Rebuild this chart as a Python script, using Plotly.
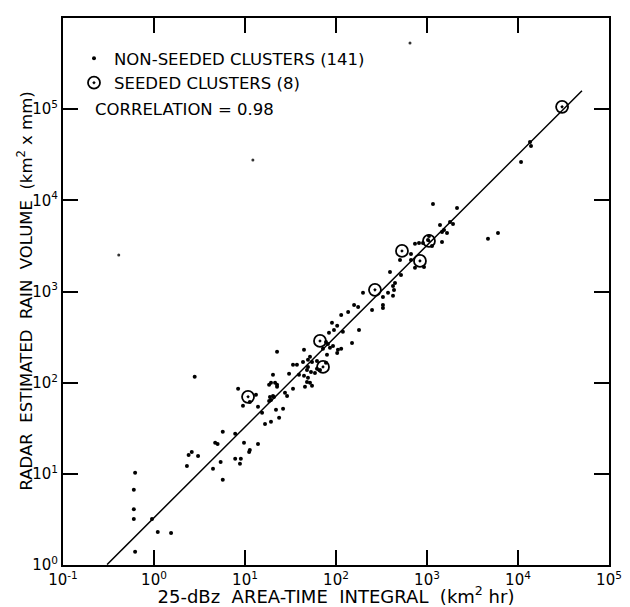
import numpy as np
import plotly.graph_objects as go

# ---- data ----
nonseeded_x = [0.62, 0.60, 0.60, 0.60, 0.95, 1.1, 1.54, 0.62, 2.3, 2.4, 2.6, 3.05, 4.45, 5.4, 5.7,
               4.7, 5.0, 5.7, 7.8, 7.8, 8.8, 9.0, 9.75, 11.3, 11.1, 13.9, 2.8, 8.4, 9.5, 13.2,
               11.3, 13.9, 15.4, 16.6, 19.3, 23.7, 26.2, 21.9, 19.3, 20.3, 18.4, 18.8, 20.8, 27.5,
               29.0, 19.3, 21.4, 22.5, 22.5, 20.3, 18.4, 30.5, 39.2, 33.7, 37.2, 22.5, 33.7, 45.6,
               54.5, 51.8, 44.5, 49.2, 43.4, 49.2, 48.0, 53.1, 44.5, 51.8, 49.2, 54.5, 61.8, 77.6,
               61.8, 58.7, 66.7, 79.6, 71.9, 85.9, 92.7, 105, 114, 103, 150, 77.6, 81.6, 83.7,
               95.0, 103, 90.3, 119, 179, 114, 136, 158, 175, 198, 249, 328, 328, 328, 373, 423,
               434, 423, 445, 518, 392, 505, 667, 667, 738, 927, 738, 817, 903, 1025, 1135, 1462,
               1052, 1462, 1538, 1660, 1390, 1791, 1932, 1163, 2138, 4680, 6026, 10800, 13550,
               13900, 48.0]
nonseeded_y = [10.3, 6.7, 4.1, 3.2, 3.2, 2.3, 2.25, 1.4, 12.2, 16.1, 17.4, 15.7, 11.4, 13.5, 8.6,
               21.9, 21.3, 28.9, 27.5, 14.6, 12.9, 14.6, 21.9, 18.3, 17.4, 21.3, 116, 85.5, 55.7, 73.5,
               61.5, 54.3, 46.7, 35.3, 37.2, 41.1, 51.6, 50.4, 64.7, 71.6, 63.1, 69.8, 69.8, 77.3,
               71.6, 99.5, 99.5, 94.6, 90.0, 122, 94.6, 125, 122, 157, 157, 218, 85.5, 90.0,
               92.3, 99.5, 119, 113, 169, 149, 138, 131, 229, 192, 178, 169, 173, 165,
               142, 128, 138, 202, 235, 241, 253, 229, 235, 212, 273, 280, 266, 352,
               379, 420, 453, 361, 379, 553, 597, 713, 678, 966, 628, 713, 661, 873, 966, 896,
               1040, 1150, 1240, 1520, 1640, 2220, 2220, 2580, 1820, 1860, 3330, 3410, 3410, 3680, 3160, 3500,
               4070, 4500, 4730, 4390, 5370, 5800, 5510, 9140, 8260, 3780, 4390, 26400, 43600,
               39400, 102]

# isolated faint points far from the main cluster
outlier_x = [650, 12.2, 0.41]
outlier_y = [532000, 27700, 2520]

seeded_x = [10.8, 66.7, 72.0, 268, 531, 837, 1051, 30500]
seeded_y = [70, 287, 149, 1042, 2786, 2167, 3590, 106000]

# regression line y = a * x^b, drawn over the fitted range
fit_a, fit_b = 3.3, 0.996
fit_x_range = [0.305, 50500]

x_tick_vals = [0.1, 1, 10, 100, 1000, 10000, 100000]
x_tick_text = ["10<sup>-1</sup>", "10<sup>0</sup>", "10<sup>1</sup>", "10<sup>2</sup>",
               "10<sup>3</sup>", "10<sup>4</sup>", "10<sup>5</sup>"]
y_tick_vals = [1, 10, 100, 1000, 10000, 100000, 1000000]
y_tick_text = ["10<sup>0</sup>", "10<sup>1</sup>", "10<sup>2</sup>", "10<sup>3</sup>",
               "10<sup>4</sup>", "10<sup>5</sup>", "10<sup>6</sup>"]

x_title = "25-dBz  AREA-TIME  INTEGRAL  (km<sup>2</sup> hr)"
y_title = "RADAR  ESTIMATED  RAIN  VOLUME  (km<sup>2</sup> x mm)"

FONT = "DejaVu Sans"
PLOT_W, PLOT_H = 546, 547

fig = go.Figure()

line_x = np.array(fit_x_range, dtype=float)
line_y = fit_a * line_x ** fit_b
fig.add_trace(go.Scatter(x=line_x, y=line_y, mode="lines",
                         line=dict(color="black", width=1.5), showlegend=False,
                         hoverinfo="skip"))

fig.add_trace(go.Scatter(x=nonseeded_x, y=nonseeded_y, mode="markers",
                         name="NON-SEEDED CLUSTERS (141)",
                         marker=dict(color="black", size=4, symbol="circle")))

fig.add_trace(go.Scatter(x=outlier_x, y=outlier_y, mode="markers", showlegend=False,
                         marker=dict(color="#333333", size=3, symbol="circle")))

fig.add_trace(go.Scatter(x=seeded_x, y=seeded_y, mode="markers",
                         name="SEEDED CLUSTERS (8)",
                         marker=dict(color="black", size=12, symbol="circle-open-dot",
                                     line=dict(color="black", width=1.8))))

axis_common = dict(type="log", showgrid=False, zeroline=False, showline=True,
                   linecolor="black", linewidth=2, mirror="ticks", ticks="inside",
                   ticklen=15, tickwidth=2, tickcolor="black", automargin=False,
                   tickfont=dict(family=FONT, size=15, color="black"))

fig.update_xaxes(range=[-1, 5], tickvals=x_tick_vals, ticktext=x_tick_text,
                 title=dict(text=x_title,
                            font=dict(family=FONT, size=18, color="black"), standoff=7),
                 **axis_common)
fig.update_yaxes(range=[0, 6], tickvals=y_tick_vals, ticktext=y_tick_text,
                 **axis_common)

# y-axis title placed as rotated text so it sits where the reference has it
fig.add_annotation(text=y_title, xref="paper", yref="paper",
                   x=(25 - 63) / PLOT_W, y=0.5, xanchor="center", yanchor="middle",
                   textangle=-90, showarrow=False,
                   font=dict(family=FONT, size=16.5, color="black"))

fig.add_annotation(text="CORRELATION = 0.98", xref="paper", yref="paper",
                   x=(93 - 63) / PLOT_W, y=1 - (110 - 18) / PLOT_H, xanchor="left", yanchor="middle",
                   showarrow=False, font=dict(family=FONT, size=16.5, color="black"))

# page body has an 8px default margin: shrink figure so the plot area lands at 63..609 x 18..565
fig.update_layout(
    width=622, height=599,
    margin=dict(l=55, r=21, t=10, b=42),
    paper_bgcolor="white", plot_bgcolor="white",
    font=dict(family=FONT, color="black"),
    legend=dict(x=11 / PLOT_W, y=1 - 23 / PLOT_H, xanchor="left", yanchor="top",
                bgcolor="rgba(0,0,0,0)", font=dict(family=FONT, size=16.5, color="black"),
                itemsizing="trace"),
)

fig.write_html("out.html")
